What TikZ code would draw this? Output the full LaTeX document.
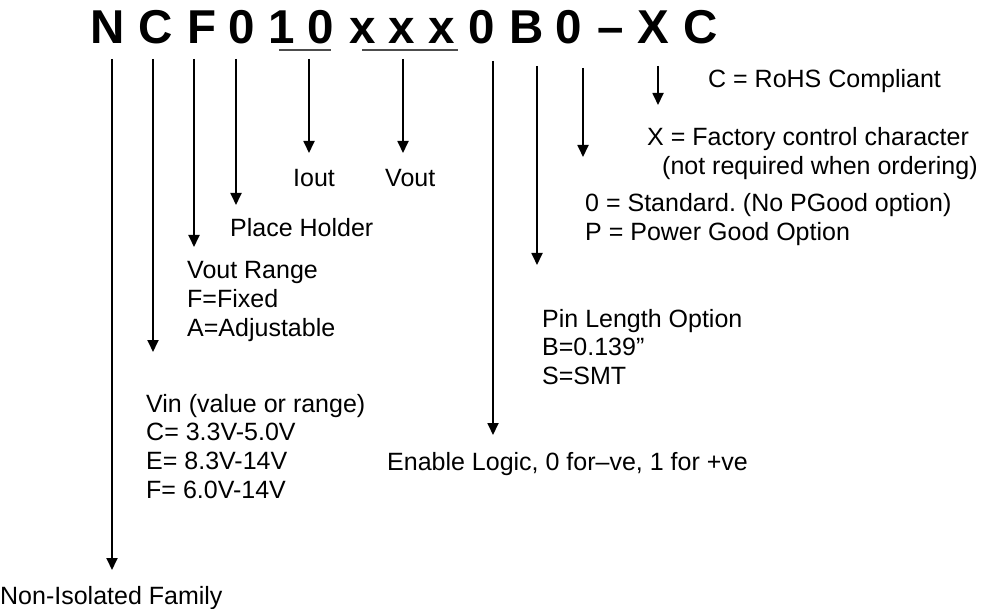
\documentclass[tikz,border=0pt]{standalone}
\usepackage{fontspec}
\setmainfont{Liberation Sans}
\usetikzlibrary{arrows.meta}
\newcommand{\lines}[1]{\begin{tabular}[t]{@{}l@{}}#1\end{tabular}}
\frenchspacing
\begin{document}
\begin{tikzpicture}[x=1pt,y=-1pt,
  lbl/.style={anchor=base west, inner sep=0pt, font=\fontsize{25}{28.75}\selectfont},
  ttl/.style={anchor=base, inner sep=0pt, font=\fontsize{47.5}{50}\selectfont\bfseries},
  pointer/.style={line width=1.8pt, -{Triangle[width=11pt,length=12pt]}},
  uline/.style={line width=2pt, draw=black!70}]
\useasboundingbox (0,0) rectangle (1008,609);

% title characters
\foreach \ch/\xx/\nm in {N/108/t1, C/156/t2, F/202/t3, 0/242/t4, 1/282/t5, 0/321/t6,
  x/363/t7, x/402/t8, x/442/t9, 0/482/t10, B/527/t11, 0/569/t12, –/611/t13, X/653/t14, C/701/t15}
  \node[ttl] (\nm) at (\xx,44) {\ch};

% underlines
\coordinate (u1a) at (279,50); \coordinate (u1b) at (331,50);
\coordinate (u2a) at (362,50); \coordinate (u2b) at (458,50);
\draw[uline] (u1a) -- (u1b);
\draw[uline] (u2a) -- (u2b);

% labels
\node[lbl] (rohs) at (708,88) {C = RoHS Compliant};
\node[lbl] (xfac) at (647,146) {\lines{X = Factory control character\\\hspace{15pt}(not required when ordering)}};
\node[lbl] (std) at (585,212) {\lines{0 = Standard. (No PGood option)\\P = Power Good Option}};
\node[lbl] (iout) at (293,187) {Iout};
\node[lbl] (vout) at (385,187) {Vout};
\node[lbl] (place) at (230,237) {Place Holder};
\node[lbl] (vrange) at (187,279) {\lines{Vout Range\\F=Fixed\\A=Adjustable}};
\node[lbl] (pin) at (542,327) {\lines{Pin Length Option\\B=0.139”\\S=SMT}};
\node[lbl] (vin) at (146,412) {\lines{Vin (value or range)\\C= 3.3V-5.0V\\E= 8.3V-14V\\F= 6.0V-14V}};
\node[lbl] (enable) at (387,470) {Enable Logic, 0 for–ve, 1 for +ve};
\node[lbl] (fam) at (0,604) {Non-Isolated Family};

% arrow start and end points
\coordinate (aN) at (112,59);  \coordinate (bN) at (112,570);
\coordinate (aC) at (153,59);  \coordinate (bC) at (153,352);
\coordinate (aF) at (194,59);  \coordinate (bF) at (194,247);
\coordinate (aP) at (236,59);  \coordinate (bP) at (236,205);
\coordinate (aI) at (309,59);  \coordinate (bI) at (309,153);
\coordinate (aV) at (403,59);  \coordinate (bV) at (403,153);
\coordinate (aE) at (493,61);  \coordinate (bE) at (493,435);
\coordinate (aB) at (537,66);  \coordinate (bB) at (537,265);
\coordinate (aS) at (583,68);  \coordinate (bS) at (583,157);
\coordinate (aR) at (658,66);  \coordinate (bR) at (658,105);

\foreach \s in {N,C,F,P,I,V,E,B,S,R}
  \draw[pointer] (a\s) -- (b\s);
\end{tikzpicture}
\end{document}
